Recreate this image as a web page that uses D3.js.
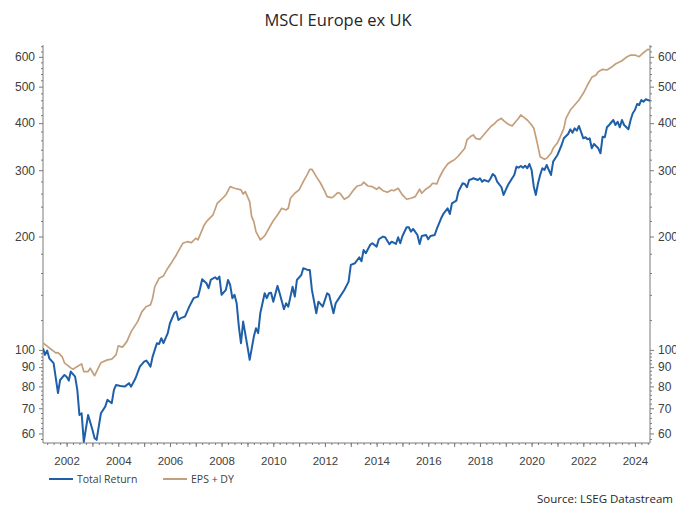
<!DOCTYPE html>
<html>
<head>
<meta charset="utf-8">
<script src="https://cdn.jsdelivr.net/npm/d3@7"></script>
<style>
  body { margin: 0; background: #fff; }
  svg { display: block; font-family: "Open Sans", "Noto Sans", sans-serif; }
  .axis path, .axis line { stroke: #7a7a7a; }
  .axis text { fill: #404040; }
</style>
</head>
<body>
<svg width="676" height="505"></svg>
<script>
// monthly readings, rebased (Total Return and EPS + DY, MSCI Europe ex UK)
var trDates = ["2001-02","2001-03","2001-04","2001-05","2001-07","2001-09","2001-10","2001-12",
  "2002-01","2002-02","2002-03","2002-05","2002-06","2002-07","2002-08","2002-09","2002-11",
  "2003-01","2003-02","2003-03","2003-05","2003-07","2003-08","2003-10","2003-11","2003-12",
  "2004-02","2004-04","2004-06","2004-07","2004-09","2004-11",
  "2005-01","2005-02","2005-03","2005-04","2005-05","2005-07","2005-08","2005-09","2005-10","2005-12",
  "2006-01","2006-03","2006-04","2006-05","2006-06","2006-08","2006-10","2006-12",
  "2007-02","2007-03","2007-04","2007-06","2007-07","2007-08","2007-10","2007-11","2007-12",
  "2008-01","2008-03","2008-04","2008-05","2008-06","2008-07","2008-08","2008-09","2008-10","2008-11",
  "2009-01","2009-02","2009-04","2009-05","2009-06","2009-07","2009-09","2009-10","2009-11","2009-12",
  "2010-01","2010-03","2010-04","2010-06","2010-07","2010-08","2010-10","2010-11","2010-12",
  "2011-02","2011-03","2011-05","2011-06","2011-07","2011-09","2011-10","2011-12",
  "2012-02","2012-03","2012-05","2012-06","2012-08","2012-10","2012-12",
  "2013-01","2013-03","2013-05","2013-06","2013-07","2013-08","2013-10","2013-11",
  "2014-01","2014-02","2014-04","2014-05","2014-07","2014-08","2014-10","2014-11","2014-12",
  "2015-01","2015-03","2015-04","2015-05","2015-06","2015-08","2015-09","2015-10","2015-12",
  "2016-01","2016-02","2016-04","2016-05","2016-07","2016-08","2016-10","2016-11","2016-12",
  "2017-02","2017-03","2017-05","2017-06","2017-07","2017-08","2017-09","2017-10","2017-12",
  "2018-01","2018-02","2018-03","2018-05","2018-06","2018-07","2018-08","2018-09","2018-11","2018-12",
  "2019-01","2019-02","2019-04","2019-05","2019-06","2019-07","2019-08","2019-09","2019-10","2019-11","2019-12",
  "2020-01","2020-02","2020-03","2020-04","2020-05","2020-06","2020-07","2020-08","2020-10","2020-11","2020-12",
  "2021-01","2021-03","2021-04","2021-06","2021-07","2021-08","2021-09","2021-10","2021-11",
  "2022-01","2022-02","2022-03","2022-04","2022-05","2022-06","2022-08","2022-09","2022-10","2022-11","2022-12",
  "2023-01","2023-03","2023-04","2023-05","2023-06","2023-07","2023-08","2023-10","2023-11","2023-12",
  "2024-01","2024-02","2024-03","2024-04","2024-05","2024-06","2024-08"];
var trValues = [101.0,97.0,99.6,95.0,92.2,76.8,83.2,85.8,
  84.9,82.9,87.6,84.9,78.3,67.2,67.9,57.0,67.2,
  61.4,58.3,57.7,67.9,70.7,73.7,72.2,78.3,80.7,
  80.2,79.9,81.6,79.9,84.1,90.3,
  93.1,93.7,92.2,90.3,96.0,104.2,103.7,107.4,104.2,110.8,
  117.7,125.1,126.4,120.1,121.4,122.6,130.3,137.2,
  138.5,144.9,154.0,150.3,145.8,153.4,155.9,154.0,156.5,
  140.0,144.3,153.4,148.8,137.2,140.0,133.0,115.3,104.2,118.9,
  102.0,94.1,108.5,114.2,110.8,125.1,141.4,137.2,141.4,141.9,
  134.3,147.9,141.4,128.2,133.0,130.3,147.2,138.5,153.4,
  158.1,164.8,163.1,163.1,144.3,125.1,134.3,130.3,
  141.4,140.0,125.1,133.0,138.5,144.3,151.8,
  168.1,169.9,176.2,172.0,184.2,180.6,190.0,191.9,
  188.0,196.7,199.9,199.1,190.8,193.8,191.1,199.1,191.9,
  200.7,211.7,211.7,206.1,209.5,201.9,191.1,200.7,201.9,
  196.7,200.7,201.9,209.5,223.6,229.6,237.7,229.6,245.1,
  249.0,263.1,277.0,275.8,270.3,282.6,283.8,285.6,282.6,
  285.6,279.7,282.6,279.7,285.6,293.2,289.6,279.7,270.3,257.9,
  265.9,274.1,285.6,291.4,306.6,304.7,307.8,304.7,308.4,303.6,311.6,
  300.4,271.3,257.9,277.0,291.4,303.6,300.4,309.7,291.4,316.1,322.7,
  329.3,350.0,364.6,374.3,385.2,377.3,387.6,382.0,393.1,
  364.6,366.9,362.4,364.6,343.0,352.1,343.0,332.7,368.2,366.9,390.0,
  395.5,407.8,395.5,403.6,390.0,407.8,395.5,385.2,407.8,424.8,
  433.4,449.7,447.0,460.9,456.0,462.8,458.8];

var epsDates = ["2001-02","2001-05","2001-08","2001-09","2001-11","2001-12",
  "2002-03","2002-04","2002-06","2002-08","2002-09","2002-11","2002-12",
  "2003-02","2003-05","2003-08","2003-10","2003-12",
  "2004-01","2004-03","2004-05","2004-07","2004-10","2004-12",
  "2005-02","2005-04","2005-05","2005-06","2005-08","2005-10","2005-12",
  "2006-02","2006-04","2006-07","2006-09","2006-11",
  "2007-01","2007-02","2007-05","2007-06","2007-09","2007-11",
  "2008-01","2008-03","2008-05","2008-07","2008-10","2008-11","2008-12",
  "2009-02","2009-03","2009-04","2009-05","2009-07","2009-09","2009-11",
  "2010-01","2010-03","2010-05","2010-07","2010-08","2010-09","2010-11",
  "2011-01","2011-03","2011-05","2011-06","2011-07","2011-09","2011-11",
  "2012-01","2012-02","2012-04","2012-05","2012-07","2012-08","2012-10","2012-12",
  "2013-02","2013-04","2013-06","2013-07","2013-09","2013-11",
  "2014-01","2014-02","2014-04","2014-06","2014-08","2014-09","2014-11",
  "2015-01","2015-03","2015-05","2015-07","2015-09","2015-10","2015-12",
  "2016-02","2016-03","2016-05","2016-06","2016-08","2016-10","2016-12",
  "2017-01","2017-03","2017-06","2017-07","2017-09","2017-10","2017-11",
  "2018-01","2018-02","2018-04","2018-06","2018-08","2018-09","2018-11","2018-12",
  "2019-02","2019-04","2019-05","2019-07","2019-08","2019-09","2019-11",
  "2020-01","2020-02","2020-03","2020-04","2020-05","2020-07","2020-08","2020-10","2020-11",
  "2021-01","2021-02","2021-04","2021-05","2021-07","2021-09","2021-11",
  "2022-01","2022-03","2022-05","2022-07","2022-08","2022-10","2022-12",
  "2023-02","2023-04","2023-07","2023-09","2023-11",
  "2024-01","2024-03","2024-05","2024-07","2024-08"];
var epsValues = [104.4,101.2,98.2,98.4,95.8,92.4,
  89.6,88.9,90.3,91.8,87.6,87.6,89.4,
  85.4,92.5,94.1,94.5,97.0,
  102.5,101.7,105.2,111.8,118.9,126.4,
  130.4,131.7,137.2,147.2,155.0,157.2,164.8,
  171.5,178.7,191.9,193.8,192.6,
  197.9,195.9,214.7,219.0,228.2,245.1,
  251.2,257.9,271.3,268.6,265.9,259.4,263.1,
  247.5,225.8,219.0,206.1,195.9,200.7,210.4,
  220.4,228.2,237.7,235.3,237.7,252.7,260.6,
  265.9,279.7,293.2,301.7,301.7,288.4,277.0,
  263.1,255.2,253.6,255.2,261.5,260.6,251.2,255.2,
  264.7,272.4,274.1,278.7,272.4,271.3,
  267.0,270.3,264.7,262.1,265.9,264.7,268.6,
  257.9,251.2,252.7,255.2,267.0,260.6,267.5,
  272.4,277.0,275.8,285.6,300.4,311.6,317.4,
  319.3,327.2,343.0,360.9,369.8,372.1,364.6,
  362.4,368.2,379.6,391.4,399.7,406.1,412.0,406.1,
  397.9,393.1,399.7,412.0,420.4,416.1,407.8,
  395.5,387.6,368.2,346.4,325.9,320.7,322.7,332.7,343.0,
  355.0,365.0,387.6,412.0,433.4,447.0,460.9,
  480.1,505.0,529.3,536.8,547.8,555.8,553.5,
  562.7,574.2,585.9,598.2,606.6,
  606.6,600.4,615.2,628.1,625.5];

var yMajorTicks = [60, 70, 80, 90, 100, 200, 300, 400, 500, 600];
var xLabelYears = [2002, 2004, 2006, 2008, 2010, 2012, 2014, 2016, 2018, 2020, 2022, 2024];
var seriesNames = ["Total Return", "EPS + DY"];
var seriesColors = ["#1f5fa8", "#c49f7b"];

var svg = d3.select("svg"),
    plotLeft = 43, plotRight = 650, plotTop = 45, plotBottom = 443;

var parseMonth = d3.timeParse("%Y-%m");

var x = d3.scaleTime()
    .domain([new Date(2001, 1, 1), new Date(2024, 7, 1)])
    .range([plotLeft, plotRight]);

var y = d3.scaleLog()
    .domain([56.6, 645])
    .range([plotBottom, plotTop]);

// minor ticks: every 2 below 100, every 20 above
var yMinorTicks = d3.range(58, 100, 2).concat(d3.range(120, 645, 20))
    .filter(function(v) { return yMajorTicks.indexOf(v) < 0; });

// title
svg.append("text")
    .attr("x", 338).attr("y", 26)
    .attr("text-anchor", "middle")
    .attr("font-size", 16.5)
    .attr("fill", "#262626")
    .text("MSCI Europe ex UK");

// left and right value axes
function valueAxis(axisFn, xPos) {
  var g = svg.append("g").attr("class", "axis")
      .attr("transform", "translate(" + xPos + ",0)");
  g.call(axisFn(y).tickValues(yMajorTicks).tickFormat(d3.format("d")).tickSize(4).tickPadding(4));
  g.select(".domain").attr("d", "M0," + plotTop + "V" + plotBottom);
  g.append("g").call(axisFn(y).tickValues(yMinorTicks).tickFormat("").tickSize(2))
      .select(".domain").remove();
  g.selectAll("text").attr("font-size", 12);
}
valueAxis(d3.axisLeft, plotLeft);
valueAxis(d3.axisRight, plotRight);

// bottom axis: quarterly minor ticks, yearly major ticks, labels every 2 years
var xAxisG = svg.append("g").attr("class", "axis")
    .attr("transform", "translate(0," + plotBottom + ")");
xAxisG.call(d3.axisBottom(x).ticks(d3.timeMonth.every(3)).tickFormat("").tickSize(2));
xAxisG.select(".domain").attr("d", "M" + plotLeft + ",0H" + plotRight);
xAxisG.append("g").call(d3.axisBottom(x).ticks(d3.timeYear.every(1)).tickFormat("").tickSize(4))
    .select(".domain").remove();
xAxisG.append("g").call(d3.axisBottom(x)
      .tickValues(xLabelYears.map(function(yr) { return new Date(yr, 0, 1); }))
      .tickFormat(d3.timeFormat("%Y")).tickSize(0).tickPadding(14))
    .call(function(g) { g.select(".domain").remove(); })
    .selectAll("text").attr("font-size", 11.5);

// lines
svg.append("clipPath").attr("id", "plot")
  .append("rect").attr("x", plotLeft).attr("y", plotTop - 10)
  .attr("width", plotRight - plotLeft).attr("height", plotBottom - plotTop + 10);

var line = d3.line()
    .x(function(d) { return x(d.date); })
    .y(function(d) { return y(d.value); });

var series = [
  trDates.map(function(d, i) { return { date: parseMonth(d), value: trValues[i] }; }),
  epsDates.map(function(d, i) { return { date: parseMonth(d), value: epsValues[i] }; })
];

svg.append("g").attr("clip-path", "url(#plot)")
  .selectAll("path")
  .data([1, 0])
  .enter().append("path")
    .attr("d", function(k) { return line(series[k]); })
    .attr("fill", "none")
    .attr("stroke", function(k) { return seriesColors[k]; })
    .attr("stroke-width", function(k) { return k === 0 ? 2 : 1.7; })
    .attr("stroke-linejoin", "round");

// legend
var legend = svg.append("g").selectAll("g")
    .data(seriesNames)
    .enter().append("g")
    .attr("transform", function(d, i) { return "translate(" + (49 + i * 114) + ",479)"; });
legend.append("line")
    .attr("x1", 0).attr("x2", 24)
    .attr("stroke", function(d, i) { return seriesColors[i]; })
    .attr("stroke-width", 2);
legend.append("text")
    .attr("x", 28).attr("y", 3.5)
    .attr("font-size", 10.5)
    .attr("fill", "#404040")
    .text(function(d) { return d; });

// source note
svg.append("text")
    .attr("x", 673).attr("y", 503)
    .attr("text-anchor", "end")
    .attr("font-size", 11.5)
    .attr("fill", "#262626")
    .text("Source: LSEG Datastream");
</script>
</body>
</html>
